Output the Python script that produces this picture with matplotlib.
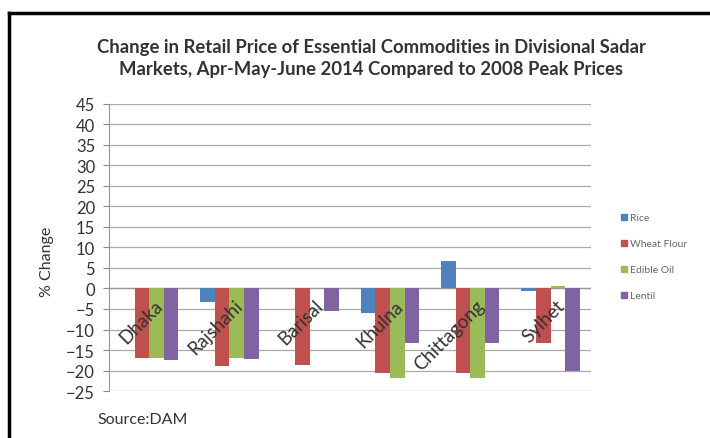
import numpy as np
import matplotlib.pyplot as plt
from matplotlib.lines import Line2D

plt.rcParams['font.family'] = ['Lato', 'DejaVu Sans']

divisions = ['Dhaka', 'Rajshahi', 'Barisal', 'Khulna', 'Chittagong', 'Sylhet']
rice = [0, -3.4, 0, -5.9, 6.8, -0.5]
wheat_flour = [-17.0, -18.8, -18.6, -20.5, -20.5, -13.4]
edible_oil = [-17.0, -17.0, 0, -21.9, -21.9, 0.7]
lentil = [-17.4, -17.3, -5.4, -13.4, -13.4, -20.0]

series = [('Rice', rice, '#4F81BD'),
          ('Wheat Flour', wheat_flour, '#C0504D'),
          ('Edible Oil', edible_oil, '#9BBB59'),
          ('Lentil', lentil, '#8064A2')]

fig = plt.figure(figsize=(7.10, 4.39), dpi=100)
ax = fig.add_axes([0.1535, 0.107, 0.6785, 0.654])

x = np.arange(len(divisions))
w = 1 / 5.5
for i, (name, vals, col) in enumerate(series):
    ax.bar(x + (i - 1.5) * w, vals, w, color=col, label=name, zorder=3)

ax.set_xlim(-0.5, len(divisions) - 0.5)
ax.set_ylim(-25, 45)
ax.set_yticks(np.arange(-25, 46, 5))
ax.tick_params(axis='y', labelsize=12, colors='#888888', labelcolor='#333333',
               length=4, width=0.8, pad=6)
ax.set_xticks([])
ax.grid(axis='y', color='#AAAAAA', linewidth=0.9, zorder=0)
for s in ['top', 'right', 'bottom']:
    ax.spines[s].set_visible(False)
ax.spines['left'].set_color('#999999')
ax.axhline(0, color='#999999', linewidth=0.9, zorder=2)

for xi, name in zip(x, divisions):
    ax.text(xi + 0.06, -2.0, name, rotation=45, ha='right', va='top',
            rotation_mode='anchor', fontsize=13.5, color='#333333', zorder=4)

ax.set_ylabel('% Change', fontsize=11.5, color='#333333')
ax.yaxis.set_label_coords(-0.115, 0.455)

fig.text(0.523, 0.867, 'Change in Retail Price of Essential Commodities in Divisional Sadar\n'
         'Markets, Apr-May-June 2014 Compared to 2008 Peak Prices',
         ha='center', va='center', fontsize=13.3, fontweight='bold',
         color='#333333', linespacing=1.4)

fig.text(0.137, 0.043, 'Source:DAM', fontsize=11.5, color='#333333', va='center')

handles = [Line2D([], [], marker='s', linestyle='', markersize=4.5,
                  markerfacecolor=c, markeredgecolor=c) for _, _, c in series]
fig.legend(handles, [n for n, _, _ in series], loc='center left',
           bbox_to_anchor=(0.86, 0.413), frameon=False, fontsize=7.5,
           labelcolor='#666666', handletextpad=0.2, labelspacing=1.6,
           handlelength=0.8)

# border frame
fig.add_artist(Line2D([0.012, 1.0], [0.967, 0.967], transform=fig.transFigure,
                      color='black', linewidth=2.5))
fig.add_artist(Line2D([0.012, 0.012], [0.0, 0.967], transform=fig.transFigure,
                      color='black', linewidth=2.5))

fig.savefig('out.png', dpi=100)
